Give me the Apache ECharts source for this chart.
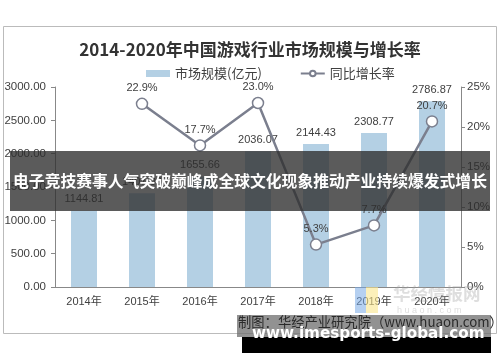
<!DOCTYPE html>
<html><head><meta charset="utf-8">
<script src="https://cdn.jsdelivr.net/npm/echarts@6/dist/echarts.min.js"></script>
<style>html,body{margin:0;padding:0;background:#fff}#c{width:500px;height:362px}</style>
</head><body><div id="c"></div>
<script>
const categories = ['2014年','2015年','2016年','2017年','2018年','2019年','2020年'];
const marketSize = [1144.81, 1407.0, 1655.66, 2036.07, 2144.43, 2308.77, 2786.87];
const growthRate = [null, 22.9, 17.7, 23.0, 5.3, 7.7, 20.7];
const leftTicks = {min: 0, max: 3000, interval: 500};
const rightTicks = {min: 0, max: 25, interval: 5};
const titleText = '2014-2020年中国游戏行业市场规模与增长率';
const bannerText = '电子竞技赛事人气突破巅峰成全球文化现象推动产业持续爆发式增长';
const sourceText = '制图：华经产业研究院（www.huaon.com）';
const siteText = 'www.imesports-global.com';

const chart = echarts.init(document.getElementById('c'));
const font = '"Liberation Sans", "Noto Sans CJK SC", sans-serif';
chart.setOption({
  animation: false,
  textStyle: {fontFamily: font},
  title: {text: titleText, left: 'center', top: 36,
    textStyle: {fontSize: 17, fontWeight: 'bold', color: '#333', fontFamily: '"Noto Sans CJK SC", serif'}},
  legend: {top: 62, left: 141, itemGap: 38, itemWidth: 24, itemHeight: 7,
    textStyle: {fontSize: 13, color: '#404040', fontFamily: '"Noto Sans CJK SC", sans-serif'},
    data: [{name: '市场规模(亿元)', icon: 'rect'}, {name: '同比增长率'}]},
  grid: {left: 55, right: 39, top: 87, bottom: 75},
  xAxis: {type: 'category', data: categories,
    axisLine: {lineStyle: {color: '#888'}}, axisTick: {lineStyle: {color: '#888'}},
    axisLabel: {fontSize: 11, color: '#404040', margin: 9}},
  yAxis: [
    {type: 'value', min: leftTicks.min, max: leftTicks.max, interval: leftTicks.interval,
      axisLine: {show: true, lineStyle: {color: '#888'}}, axisTick: {show: true, length: 4, lineStyle: {color: '#888'}},
      splitLine: {show: false},
      axisLabel: {fontSize: 11.5, color: '#404040', margin: 9, formatter: v => v.toFixed(2)}},
    {type: 'value', min: rightTicks.min, max: rightTicks.max, interval: rightTicks.interval,
      axisLine: {show: true, lineStyle: {color: '#888'}}, axisTick: {show: true, length: 4, lineStyle: {color: '#888'}},
      splitLine: {show: false},
      axisLabel: {fontSize: 11.5, color: '#404040', margin: 6, formatter: v => v + '%'}}
  ],
  series: [
    {name: '市场规模(亿元)', type: 'bar', data: marketSize, barWidth: 26,
      itemStyle: {color: '#b4d0e4'},
      label: {show: true, position: 'top', distance: 6, fontSize: 11, color: '#404040',
        formatter: p => p.value.toFixed(2)}},
    {name: '同比增长率', type: 'line', yAxisIndex: 1, data: growthRate,
      symbol: 'circle', symbolSize: 11, showAllSymbol: true,
      lineStyle: {color: '#7b7f8e', width: 2.5},
      itemStyle: {color: '#fff', borderColor: '#7b7f8e', borderWidth: 1.5},
      label: {show: true, position: 'top', distance: 4, fontSize: 11, color: '#404040',
        formatter: p => p.value.toFixed(1) + '%'}}
  ],
  graphic: [
    {type: 'rect', z: -1, shape: {x: 3.5, y: 26.5, width: 493, height: 307},
      style: {fill: 'none', stroke: '#bbb', lineWidth: 1}},
    {type: 'text', z: 1, left: 393, top: 285, style: {text: '华经情报网', fontSize: 17.5, fontWeight: 'bold',
      fill: 'rgba(160,160,160,0.35)', fontFamily: '"Noto Sans CJK SC", sans-serif'}},
    {type: 'text', z: 1, left: 397, top: 306, style: {text: 'h u a o n . c o m', fontSize: 9,
      fill: 'rgba(160,160,160,0.35)'}},
    {type: 'rect', z: 1, shape: {x: 355, y: 287, width: 11, height: 26}, style: {fill: 'rgba(120,170,230,0.55)'}},
    {type: 'rect', z: 1, shape: {x: 366, y: 287, width: 12, height: 26}, style: {fill: 'rgba(250,230,140,0.6)'}},
    {type: 'rect', z: 50, shape: {x: 10, y: 151, width: 480, height: 60},
      style: {fill: 'rgba(45,45,45,0.78)'}},
    {type: 'text', z: 51, left: 'center', top: 173, style: {text: bannerText, fontSize: 15.8, fontWeight: 'bold',
      fill: '#fff', fontFamily: '"Noto Sans CJK SC", sans-serif'}},
    {type: 'rect', z: 50, shape: {x: 237, y: 315, width: 254, height: 22},
      style: {fill: 'rgba(110,110,110,0.75)'}},
    {type: 'text', z: 51, left: 238, top: 315, style: {text: sourceText, fontSize: 13.3,
      fill: '#2a2a2a', fontFamily: '"Noto Sans CJK SC", sans-serif'}},
    {type: 'rect', z: 50, shape: {x: 242, y: 337, width: 249, height: 16},
      style: {fill: '#000'}},
    {type: 'text', z: 52, left: 252, top: 327, style: {text: siteText, fontSize: 15.2, fontWeight: 'bold',
      fill: '#fff', fontFamily: '"DejaVu Sans", sans-serif'}}
  ]
});
</script></body></html>
